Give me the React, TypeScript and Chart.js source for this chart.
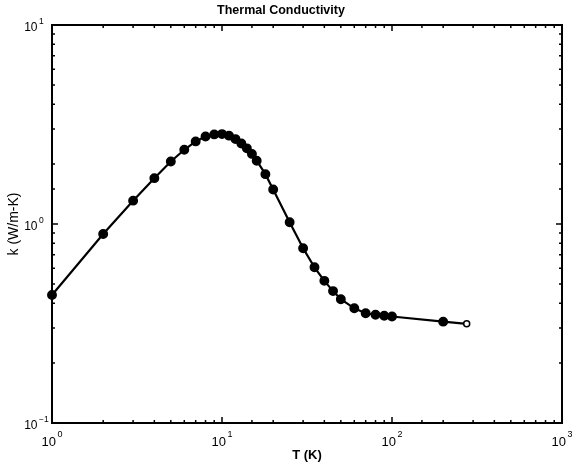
import React, { useEffect, useRef } from "react";
import { Chart, registerables } from "chart.js";

Chart.register(...registerables);

const temperatureK = [1, 2, 3, 4, 5, 6, 7, 8, 9, 10, 11, 12, 13, 14, 15, 16, 18, 20, 25, 30, 35, 40, 45, 50, 60, 70, 80, 90, 100, 200, 275];
const conductivity = [0.44, 0.89, 1.31, 1.7, 2.06, 2.36, 2.6, 2.75, 2.82, 2.83, 2.78, 2.67, 2.54, 2.4, 2.25, 2.08, 1.78, 1.49, 1.02, 0.755, 0.606, 0.518, 0.46, 0.419, 0.377, 0.356, 0.35, 0.346, 0.343, 0.323, 0.315];
const xTickValues = [1, 10, 100, 1000];
const xTickExponents = ["0", "1", "2", "3"];
const yTickValues = [0.1, 1, 10];
const yTickExponents = ["\u22121", "0", "1"];
const titleText = "Thermal Conductivity";
const xTitle = "T (K)";
const yTitle = "k (W/m-K)";

const FONT = "'Liberation Sans', Arial, Helvetica, sans-serif";

function isDecade(v: number) {
  const l = Math.log10(v);
  return Math.abs(l - Math.round(l)) < 1e-9;
}

const boxTicksPlugin = {
  id: "boxTicks",
  afterDatasetsDraw(chart: any) {
    const { ctx, chartArea } = chart;
    const { left, right, top, bottom } = chartArea;
    ctx.save();
    ctx.strokeStyle = "#000";
    ctx.lineWidth = 1.5;
    const xs = chart.scales.x;
    const ys = chart.scales.y;
    ctx.beginPath();
    for (const t of xs.ticks) {
      const px = xs.getPixelForValue(t.value);
      const len = isDecade(t.value) ? 6 : 3;
      ctx.moveTo(px, bottom);
      ctx.lineTo(px, bottom - len);
      ctx.moveTo(px, top);
      ctx.lineTo(px, top + len);
    }
    for (const t of ys.ticks) {
      const py = ys.getPixelForValue(t.value);
      const len = isDecade(t.value) ? 6 : 3;
      ctx.moveTo(left, py);
      ctx.lineTo(left + len, py);
      ctx.moveTo(right, py);
      ctx.lineTo(right - len, py);
    }
    ctx.stroke();
    ctx.lineWidth = 2;
    ctx.strokeRect(left, top, right - left, bottom - top);

    // power-of-ten tick labels with real superscripts
    ctx.fillStyle = "#000";
    ctx.textBaseline = "alphabetic";
    ctx.textAlign = "left";
    const baseX = "13px " + FONT;
    const supX = "9px " + FONT;
    xTickValues.forEach((v, i) => {
      const px = xs.getPixelForValue(v);
      ctx.font = baseX;
      const w1 = ctx.measureText("10").width;
      ctx.font = supX;
      const w2 = ctx.measureText(xTickExponents[i]).width;
      const start = px - (w1 + 1.5 + w2) / 2;
      ctx.font = baseX;
      ctx.fillText("10", start, bottom + 23);
      ctx.font = supX;
      ctx.fillText(xTickExponents[i], start + w1 + 1.5, bottom + 14);
    });
    const baseY = "12px " + FONT;
    const supY = "8.5px " + FONT;
    yTickValues.forEach((v, i) => {
      const py = ys.getPixelForValue(v);
      ctx.font = baseY;
      const w1 = ctx.measureText("10").width;
      const x10 = left - 14.5 - w1;
      ctx.fillText("10", x10, py + 5.5);
      ctx.font = supY;
      ctx.fillText(yTickExponents[i], left - 13, py - 1.5);
    });
    ctx.restore();
  },
};

export default function App() {
  const ref = useRef<HTMLCanvasElement | null>(null);
  useEffect(() => {
    if (!ref.current) return;
    const n = temperatureK.length;
    const chart = new Chart(ref.current, {
      type: "line",
      data: {
        datasets: [
          {
            data: temperatureK.map((t, i) => ({ x: t, y: conductivity[i] })),
            borderColor: "#000",
            borderWidth: 2.2,
            pointRadius: temperatureK.map((_, i) => (i === n - 1 ? 3 : 4.2)),
            pointBackgroundColor: temperatureK.map((_, i) => (i === n - 1 ? "#fff" : "#000")),
            pointBorderColor: "#000",
            pointBorderWidth: 1.5,
            tension: 0,
            clip: false as any,
          },
        ],
      },
      options: {
        responsive: false,
        animation: false,
        devicePixelRatio: 1,
        layout: { padding: { left: 0, right: 11, top: 0, bottom: 0 } },
        plugins: {
          legend: { display: false },
          tooltip: { enabled: false },
          title: {
            display: true,
            text: titleText,
            color: "#000",
            font: { family: FONT, size: 12.5, weight: "bold", lineHeight: 1.2 },
            padding: { top: 3, bottom: 7 },
          },
        },
        scales: {
          x: {
            type: "logarithmic",
            min: 1,
            max: 1000,
            grid: { display: false },
            border: { display: false },
            afterFit: (s: any) => {
              s.height = 46;
            },
            ticks: { display: false, autoSkip: false },
            title: {
              display: true,
              text: xTitle,
              color: "#000",
              font: { family: FONT, size: 13, weight: "bold" },
              padding: { top: 0, bottom: 6 },
            },
          },
          y: {
            type: "logarithmic",
            min: 0.1,
            max: 10,
            grid: { display: false },
            border: { display: false },
            afterFit: (s: any) => {
              s.width = 52;
            },
            ticks: { display: false, autoSkip: false },
            title: {
              display: true,
              text: yTitle,
              color: "#000",
              font: { family: FONT, size: 14 },
              padding: { top: 6, bottom: 0 },
            },
          },
        },
      },
      plugins: [boxTicksPlugin],
    });
    return () => chart.destroy();
  }, []);
  return (
    <div style={{ position: "absolute", left: 0, top: 0, width: 573, height: 469, background: "#fff" }}>
      <canvas ref={ref} width={573} height={469} />
    </div>
  );
}
